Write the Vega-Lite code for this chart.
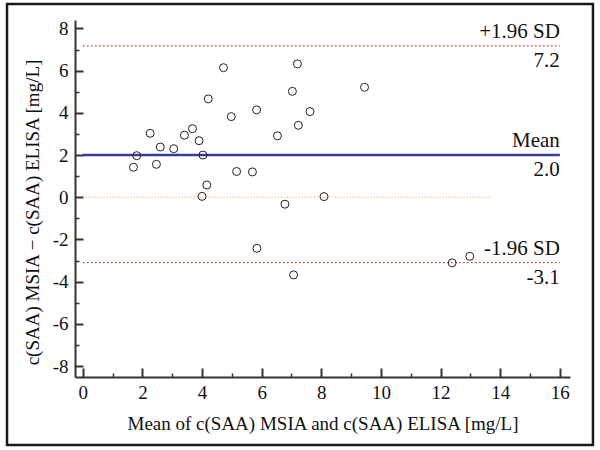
{
  "$schema": "https://vega.github.io/schema/vega-lite/v6.json",
  "width": 495,
  "height": 357,
  "autosize": {"type": "none"},
  "padding": {"left": 75, "top": 20, "right": 30, "bottom": 73},
  "background": "white",
  "config": {"view": {"stroke": null}, "font": "Liberation Serif"},
  "datasets": {
    "points": [
      {"mean": 1.70, "diff": 1.42},
      {"mean": 1.81, "diff": 1.97},
      {"mean": 2.26, "diff": 3.03},
      {"mean": 2.47, "diff": 1.56},
      {"mean": 2.60, "diff": 2.38},
      {"mean": 3.05, "diff": 2.30},
      {"mean": 3.41, "diff": 2.94},
      {"mean": 3.68, "diff": 3.25},
      {"mean": 3.90, "diff": 2.68},
      {"mean": 4.03, "diff": 2.00},
      {"mean": 4.00, "diff": 0.04},
      {"mean": 4.16, "diff": 0.58},
      {"mean": 4.21, "diff": 4.66},
      {"mean": 4.72, "diff": 6.14},
      {"mean": 4.98, "diff": 3.82},
      {"mean": 5.16, "diff": 1.22},
      {"mean": 5.69, "diff": 1.20},
      {"mean": 5.83, "diff": 4.14},
      {"mean": 5.84, "diff": -2.42},
      {"mean": 6.53, "diff": 2.91},
      {"mean": 6.78, "diff": -0.33},
      {"mean": 7.03, "diff": 5.02},
      {"mean": 7.07, "diff": -3.68},
      {"mean": 7.20, "diff": 6.32},
      {"mean": 7.23, "diff": 3.41},
      {"mean": 7.62, "diff": 4.06},
      {"mean": 8.09, "diff": 0.03},
      {"mean": 9.45, "diff": 5.21},
      {"mean": 12.39, "diff": -3.11},
      {"mean": 12.98, "diff": -2.80}
    ],
    "limits": [
      {"value": 7.17, "label": "+1.96 SD", "num": "7.2", "kind": "sd"},
      {"value": 2.0, "label": "Mean", "num": "2.0", "kind": "mean"},
      {"value": -3.1, "label": "-1.96 SD", "num": "-3.1", "kind": "sd"}
    ],
    "zero": [{"start": 0, "end": 13.7, "value": 0}]
  },
  "resolve": {"axis": {"x": "independent", "y": "independent"}},
  "layer": [
    {
      "data": {"values": [{}]},
      "mark": {"type": "rect", "filled": false, "stroke": "#1a1a1a", "strokeWidth": 2.5},
      "encoding": {
        "x": {"datum": -2.54, "type": "quantitative", "scale": {"domain": [-0.26, 16.34], "nice": false, "zero": false}, "axis": null},
        "x2": {"datum": 17.11},
        "y": {"datum": 9.16, "type": "quantitative", "scale": {"domain": [-8.52, 8.40], "nice": false, "zero": false}, "axis": null},
        "y2": {"datum": -11.74}
      }
    },
    {
      "data": {"name": "zero"},
      "mark": {"type": "rule", "color": "#e39a62", "strokeWidth": 1, "strokeDash": [1, 2]},
      "encoding": {
        "x": {"field": "start", "type": "quantitative", "scale": {"domain": [-0.26, 16.34], "nice": false, "zero": false},
          "axis": {"orient": "bottom", "values": [1, 3, 5, 7, 9, 11, 13, 15], "labels": false, "domain": false, "title": null, "grid": false, "tickSize": -4, "tickWidth": 1.5, "tickColor": "#333"}},
        "x2": {"field": "end"},
        "y": {"field": "value", "type": "quantitative", "scale": {"domain": [-8.52, 8.40], "nice": false, "zero": false},
          "axis": {"orient": "left", "values": [-7, -5, -3, -1, 1, 3, 5, 7], "labels": false, "domain": false, "title": null, "grid": false, "tickSize": -4, "tickWidth": 1.5, "tickColor": "#333"}}
      }
    },
    {
      "data": {"name": "limits"},
      "transform": [{"filter": "datum.kind === 'sd'"}],
      "mark": {"type": "rule", "color": "#b23a3a", "strokeWidth": 1, "strokeDash": [2, 2]},
      "encoding": {
        "x": {"datum": 0, "type": "quantitative", "scale": {"domain": [-0.26, 16.34], "nice": false, "zero": false}, "axis": null},
        "x2": {"datum": 16},
        "y": {"field": "value", "type": "quantitative", "scale": {"domain": [-8.52, 8.40], "nice": false, "zero": false}, "axis": null}
      }
    },
    {
      "data": {"name": "limits"},
      "transform": [{"filter": "datum.kind === 'mean'"}],
      "mark": {"type": "rule", "color": "#3a3a9c", "strokeWidth": 2.5},
      "encoding": {
        "x": {"datum": 0, "type": "quantitative", "scale": {"domain": [-0.26, 16.34], "nice": false, "zero": false}, "axis": null},
        "x2": {"datum": 16},
        "y": {"field": "value", "type": "quantitative", "scale": {"domain": [-8.52, 8.40], "nice": false, "zero": false}, "axis": null}
      }
    },
    {
      "data": {"name": "points"},
      "mark": {"type": "point", "shape": "circle", "filled": false, "stroke": "#222", "strokeWidth": 1, "size": 64, "opacity": 1},
      "encoding": {
        "x": {"field": "mean", "type": "quantitative", "scale": {"domain": [-0.26, 16.34], "nice": false, "zero": false},
          "axis": {"orient": "bottom", "values": [0, 2, 4, 6, 8, 10, 12, 14, 16], "grid": false, "tickSize": -9, "tickWidth": 2, "tickColor": "#333", "domainColor": "#333", "domainWidth": 2,
            "labelFont": "Liberation Serif", "labelFontSize": 19, "labelColor": "#111", "labelPadding": 15,
            "title": "Mean of c(SAA) MSIA and c(SAA) ELISA  [mg/L]", "titleFont": "Liberation Serif", "titleFontSize": 19, "titleFontWeight": "normal", "titleColor": "#111", "titleY": 52, "titleBaseline": "alphabetic"}},
        "y": {"field": "diff", "type": "quantitative", "scale": {"domain": [-8.52, 8.40], "nice": false, "zero": false},
          "axis": {"orient": "left", "values": [-8, -6, -4, -2, 0, 2, 4, 6, 8], "grid": false, "tickSize": -8, "tickWidth": 2, "tickColor": "#333", "domainColor": "#333", "domainWidth": 2,
            "labelFont": "Liberation Serif", "labelFontSize": 19, "labelColor": "#111", "labelPadding": 15,
            "labelExpr": "datum.value < 0 ? '-' + abs(datum.value) : '' + datum.value",
            "title": "c(SAA) MSIA − c(SAA) ELISA  [mg/L]", "titleFont": "Liberation Serif", "titleFontSize": 19, "titleFontWeight": "normal", "titleColor": "#111", "titleX": -43, "titleY": 192, "titleBaseline": "middle"}}
      }
    },
    {
      "data": {"name": "limits"},
      "mark": {"type": "text", "align": "right", "baseline": "alphabetic", "dy": -8, "fontSize": 21, "font": "Liberation Serif", "color": "#111"},
      "encoding": {
        "x": {"datum": 16, "type": "quantitative", "scale": {"domain": [-0.26, 16.34], "nice": false, "zero": false}, "axis": null},
        "y": {"field": "value", "type": "quantitative", "scale": {"domain": [-8.52, 8.40], "nice": false, "zero": false}, "axis": null},
        "text": {"field": "label"}
      }
    },
    {
      "data": {"name": "limits"},
      "mark": {"type": "text", "align": "right", "baseline": "alphabetic", "dy": 21, "fontSize": 21, "font": "Liberation Serif", "color": "#111"},
      "encoding": {
        "x": {"datum": 16, "type": "quantitative", "scale": {"domain": [-0.26, 16.34], "nice": false, "zero": false}, "axis": null},
        "y": {"field": "value", "type": "quantitative", "scale": {"domain": [-8.52, 8.40], "nice": false, "zero": false}, "axis": null},
        "text": {"field": "num"}
      }
    }
  ]
}
